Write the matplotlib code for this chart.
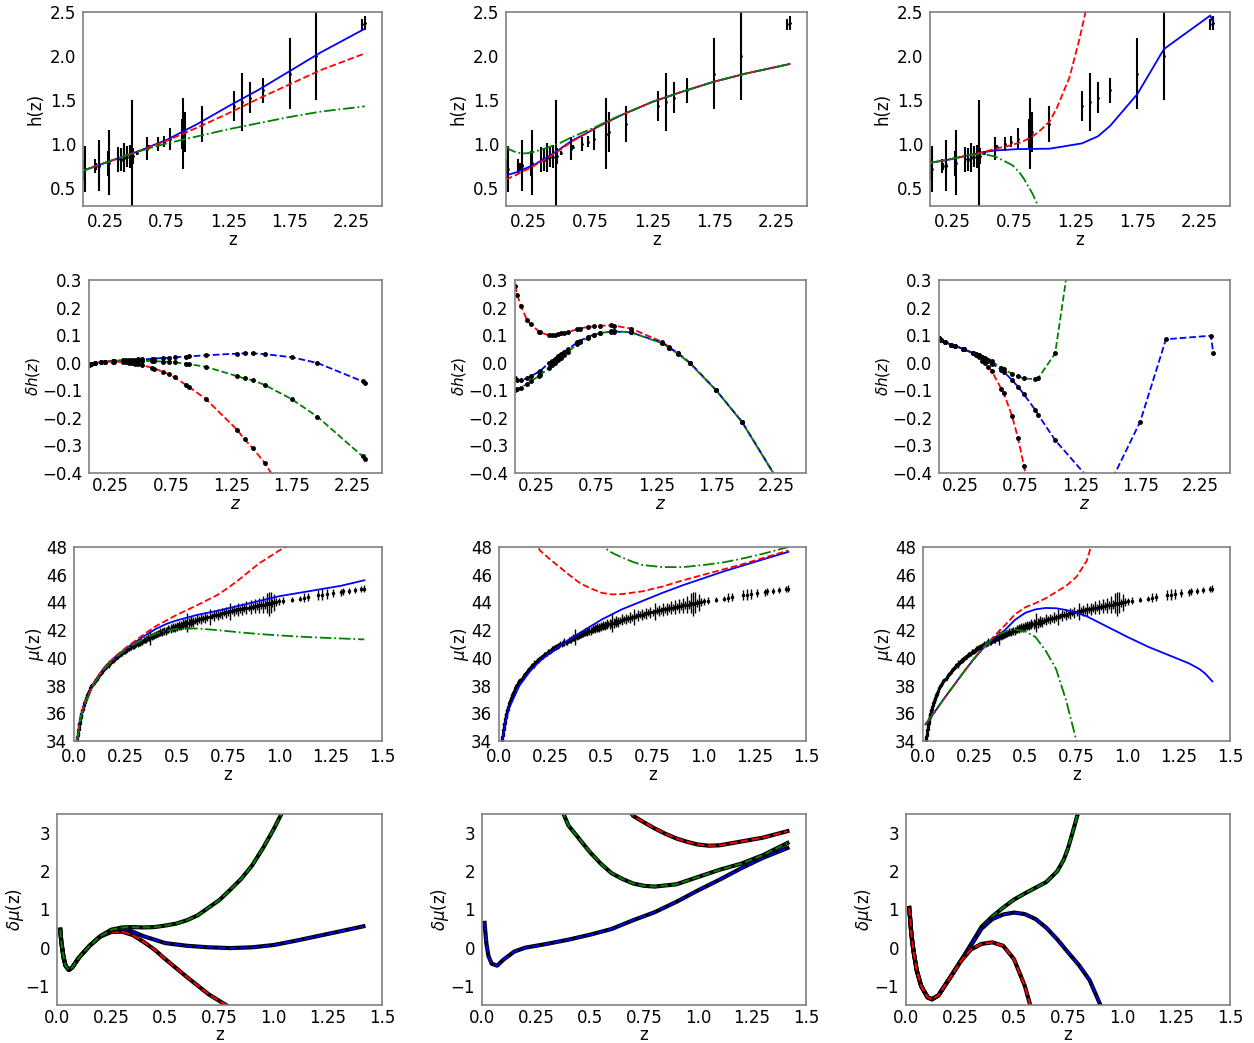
import matplotlib.pyplot as plt

# ---------------- observed H(z) data (h = H/100) ----------------
ohd_z = [0.07, 0.09, 0.17, 0.179, 0.199, 0.2, 0.27, 0.28, 0.352, 0.38, 0.3802, 0.4,
         0.4004, 0.4247, 0.4497, 0.47, 0.4783, 0.51, 0.593, 0.61, 0.68, 0.73, 0.781,
         0.875, 0.88, 0.9, 1.037, 1.3, 1.363, 1.43, 1.53, 1.75, 1.965, 2.34, 2.36]
ohd_h = [0.71, 0.72, 0.75, 0.75, 0.75, 0.76, 0.78, 0.79, 0.83, 0.83, 0.82, 0.85,
         0.86, 0.86, 0.86, 0.90, 0.87, 0.90, 0.95, 0.97, 1.00, 1.03, 1.06,
         1.12, 1.12, 1.14, 1.23, 1.43, 1.48, 1.53, 1.61, 1.80, 2.00, 2.36, 2.38]
ohd_err = [0.12, 0.26, 0.08, 0.04, 0.05, 0.29, 0.14, 0.37, 0.14, 0.13, 0.02, 0.17,
           0.11, 0.12, 0.13, 0.60, 0.09, 0.02, 0.13, 0.02, 0.08, 0.06, 0.12,
           0.17, 0.40, 0.23, 0.20, 0.17, 0.33, 0.18, 0.14, 0.40, 0.50, 0.06, 0.08]

# ---------------- supernova distance moduli ----------------
sn_z = [0.015, 0.017, 0.019, 0.021, 0.023, 0.025, 0.027, 0.03, 0.033, 0.036, 0.04, 0.045,
        0.05, 0.055, 0.06, 0.065, 0.07, 0.075, 0.08, 0.09, 0.1, 0.11, 0.12, 0.13, 0.14,
        0.15, 0.16, 0.17, 0.18, 0.19, 0.2, 0.21, 0.22, 0.23, 0.24, 0.25, 0.26, 0.27, 0.28,
        0.29, 0.3, 0.31, 0.32, 0.33, 0.34, 0.35, 0.36, 0.37, 0.38, 0.39, 0.4, 0.41, 0.42,
        0.43, 0.44, 0.45, 0.46, 0.47, 0.48, 0.49, 0.5, 0.51, 0.52, 0.53, 0.54, 0.55, 0.56,
        0.57, 0.58, 0.6, 0.62, 0.64, 0.66, 0.68, 0.7, 0.72, 0.74, 0.76, 0.78, 0.8, 0.82,
        0.84, 0.86, 0.88, 0.9, 0.92, 0.94, 0.95, 0.96, 0.975, 1.0, 1.02, 1.06, 1.1, 1.12,
        1.14, 1.19, 1.21, 1.23, 1.26, 1.3, 1.31, 1.34, 1.37, 1.4, 1.414]
sn_mu = [34.03, 34.30, 34.55, 34.78, 34.98, 35.20, 35.33, 35.60, 35.78, 35.98, 36.23, 36.45,
         36.74, 36.90, 37.10, 37.33, 37.44, 37.64, 37.80, 38.02, 38.33, 38.50, 38.78, 38.93, 39.15,
         39.24, 39.45, 39.58, 39.72, 39.80, 39.96, 40.05, 40.22, 40.28, 40.44, 40.48, 40.63, 40.70, 40.80,
         40.83, 40.98, 41.02, 41.15, 41.14, 41.30, 41.32, 41.45, 41.50, 41.52, 41.64, 41.70, 41.74, 41.85,
         41.84, 41.97, 41.95, 42.08, 42.10, 42.18, 42.20, 42.25, 42.35, 42.32, 42.44, 42.42, 42.55, 42.52,
         42.62, 42.60, 42.75, 42.80, 42.90, 42.95, 43.08, 43.12, 43.22, 43.28, 43.35, 43.42, 43.50, 43.52,
         43.62, 43.66, 43.72, 43.80, 43.83, 43.95, 43.90, 43.98, 44.00, 44.08, 44.12, 44.20, 44.28, 44.35,
         44.40, 44.52, 44.55, 44.60, 44.66, 44.74, 44.80, 44.82, 44.88, 44.95, 45.00]
sn_err = [0.15, 0.15, 0.14, 0.14, 0.13, 0.13, 0.12, 0.12, 0.12, 0.12, 0.11, 0.11,
          0.11, 0.11, 0.11, 0.12, 0.12, 0.12, 0.12, 0.13, 0.13, 0.13, 0.14, 0.14, 0.14,
          0.15, 0.15, 0.30, 0.15, 0.16, 0.16, 0.16, 0.17, 0.17, 0.18, 0.18, 0.19, 0.20, 0.20,
          0.21, 0.21, 0.22, 0.30, 0.22, 0.23, 0.23, 0.25, 0.60, 0.25, 0.26, 0.26, 0.27, 0.27,
          0.28, 0.29, 0.30, 0.30, 0.31, 0.31, 0.32, 0.33, 0.33, 0.34, 0.35, 0.36, 0.70, 0.36,
          0.37, 0.38, 0.40, 0.38, 0.40, 0.55, 0.40, 0.40, 0.40, 0.42, 0.60, 0.42, 0.45, 0.45,
          0.48, 0.50, 0.50, 0.55, 0.60, 0.70, 0.85, 0.75, 0.60, 0.25, 0.25, 0.20, 0.20, 0.30,
          0.30, 0.35, 0.40, 0.35, 0.30, 0.25, 0.25, 0.20, 0.20, 0.22, 0.25]
# more supernovae in the crowded low/intermediate redshift range
sn2_z = [0.016, 0.018, 0.022, 0.024, 0.026, 0.028, 0.032, 0.035, 0.038, 0.042, 0.048, 0.052,
         0.058, 0.063, 0.068, 0.085, 0.095, 0.105, 0.115, 0.125, 0.135, 0.145, 0.155, 0.165,
         0.175, 0.185, 0.195, 0.205, 0.215, 0.225, 0.235, 0.245, 0.255, 0.265, 0.275, 0.285,
         0.295, 0.315, 0.325, 0.345, 0.355, 0.365, 0.375, 0.385, 0.395, 0.405, 0.415, 0.425,
         0.435, 0.455, 0.465, 0.475, 0.485, 0.495, 0.505, 0.515, 0.525, 0.535, 0.545, 0.565,
         0.575, 0.59, 0.61, 0.63, 0.65, 0.67, 0.69, 0.71, 0.73, 0.75, 0.77, 0.79, 0.81, 0.83,
         0.85, 0.87, 0.89, 0.91, 0.93, 0.965, 0.985]
sn2_mu = [34.18, 34.45, 34.85, 35.12, 35.22, 35.45, 35.72, 35.88, 36.15, 36.30, 36.62, 36.80,
          37.05, 37.22, 37.40, 37.95, 38.20, 38.40, 38.60, 38.85, 39.00, 39.20, 39.35, 39.50,
          39.62, 39.78, 39.90, 40.00, 40.12, 40.25, 40.35, 40.45, 40.52, 40.65, 40.72, 40.85,
          40.90, 41.08, 41.12, 41.28, 41.40, 41.42, 41.55, 41.58, 41.65, 41.72, 41.80, 41.82,
          41.92, 42.02, 42.05, 42.15, 42.16, 42.24, 42.28, 42.30, 42.40, 42.45, 42.48, 42.58,
          42.58, 42.68, 42.78, 42.85, 42.92, 43.02, 43.10, 43.15, 43.25, 43.30, 43.40, 43.45,
          43.50, 43.58, 43.63, 43.70, 43.75, 43.80, 43.85, 43.95, 44.05]
sn2_err = [0.15, 0.15, 0.15, 0.15, 0.15, 0.15, 0.15, 0.15, 0.15, 0.15, 0.15, 0.15,
           0.15, 0.15, 0.15, 0.15, 0.15, 0.15, 0.15, 0.15, 0.15, 0.15, 0.15, 0.15,
           0.18, 0.18, 0.18, 0.18, 0.18, 0.18, 0.18, 0.18, 0.18, 0.18, 0.18, 0.18,
           0.18, 0.20, 0.20, 0.20, 0.20, 0.20, 0.20, 0.20, 0.20, 0.20, 0.20, 0.20,
           0.20, 0.20, 0.22, 0.22, 0.22, 0.22, 0.22, 0.22, 0.22, 0.22, 0.22, 0.22,
           0.22, 0.25, 0.25, 0.25, 0.25, 0.25, 0.25, 0.25, 0.25, 0.25, 0.25, 0.25,
           0.25, 0.28, 0.28, 0.28, 0.28, 0.28, 0.30, 0.30, 0.30]

# ---------------- row 1: reconstructed h(z) ----------------
h1_z = [0.07, 0.25, 0.5, 0.75, 1.0, 1.25, 1.5, 1.75, 2.0, 2.36]
h1_blue = [0.70, 0.79, 0.91, 1.05, 1.23, 1.43, 1.62, 1.83, 2.04, 2.31]
h1_red = [0.70, 0.79, 0.91, 1.04, 1.19, 1.35, 1.52, 1.68, 1.84, 2.03]
h1_green = [0.70, 0.79, 0.91, 1.01, 1.09, 1.17, 1.24, 1.31, 1.37, 1.43]

h2_z = [0.07, 0.1, 0.15, 0.2, 0.25, 0.3, 0.4, 0.5, 0.6, 0.7, 0.8, 0.9, 1.0, 1.25, 1.5, 1.75, 2.0, 2.36]
h2_blue = [0.65, 0.66, 0.68, 0.71, 0.74, 0.77, 0.85, 0.94, 1.04, 1.11, 1.19, 1.26, 1.33, 1.48, 1.60, 1.71, 1.80, 1.91]
h2_red = [0.60, 0.62, 0.65, 0.69, 0.72, 0.76, 0.84, 0.93, 1.03, 1.11, 1.19, 1.26, 1.33, 1.48, 1.60, 1.71, 1.80, 1.91]
h2_green = [0.98, 0.94, 0.91, 0.895, 0.90, 0.915, 0.96, 1.01, 1.08, 1.14, 1.20, 1.27, 1.33, 1.48, 1.60, 1.71, 1.80, 1.91]

h3_blue_z = [0.07, 0.2, 0.4, 0.48, 0.6, 0.78, 1.04, 1.3, 1.43, 1.53, 1.75, 1.965, 2.34, 2.36]
h3_blue = [0.79, 0.82, 0.88, 0.905, 0.93, 0.945, 0.95, 1.01, 1.09, 1.21, 1.57, 2.08, 2.46, 2.39]
h3_red_z = [0.07, 0.2, 0.4, 0.5, 0.6, 0.7, 0.8, 0.88, 0.95, 1.04, 1.1, 1.2, 1.28, 1.33, 1.36]
h3_red = [0.79, 0.82, 0.88, 0.91, 0.95, 0.98, 1.02, 1.07, 1.14, 1.26, 1.42, 1.76, 2.19, 2.50, 2.70]
h3_green_z = [0.07, 0.2, 0.4, 0.5, 0.6, 0.7, 0.74, 0.8, 0.83, 0.9, 0.93, 0.95]
h3_green = [0.79, 0.82, 0.88, 0.89, 0.86, 0.79, 0.76, 0.67, 0.61, 0.44, 0.35, 0.28]

# ---------------- row 2: delta h(z) at data redshifts ----------------
dh_z = [0.07, 0.09, 0.12, 0.17, 0.2, 0.27, 0.28, 0.35, 0.38, 0.4, 0.43, 0.45, 0.48, 0.51, 0.59,
        0.61, 0.68, 0.73, 0.78, 0.875, 0.9, 1.04, 1.3, 1.36, 1.43, 1.53, 1.75, 1.965, 2.34, 2.36]
dh1_blue = [-0.008, -0.005, -0.002, 0.002, 0.004, 0.007, 0.007, 0.009, 0.010, 0.010, 0.011, 0.011,
            0.012, 0.012, 0.014, 0.015, 0.017, 0.018, 0.020, 0.022, 0.023, 0.027, 0.033, 0.034,
            0.034, 0.031, 0.020, -0.001, -0.068, -0.072]
dh1_green = [-0.008, -0.005, -0.002, 0.002, 0.004, 0.006, 0.006, 0.007, 0.007, 0.007, 0.007, 0.007,
             0.007, 0.007, 0.006, 0.006, 0.004, 0.003, 0.001, -0.003, -0.005, -0.015, -0.049, -0.057,
             -0.064, -0.081, -0.132, -0.196, -0.340, -0.348]
dh1_red = [-0.008, -0.005, -0.002, 0.002, 0.004, 0.004, 0.004, 0.002, 0.001, 0.000, -0.002, -0.004,
           -0.006, -0.009, -0.018, -0.021, -0.032, -0.041, -0.053, -0.081, -0.088, -0.132, -0.244, -0.278,
           -0.311, -0.365, -0.520, -0.700, -1.050, -1.070]

dh2_red = [0.280, 0.245, 0.205, 0.155, 0.140, 0.113, 0.110, 0.100, 0.100, 0.101, 0.104, 0.106,
           0.108, 0.110, 0.122, 0.124, 0.130, 0.132, 0.134, 0.135, 0.134, 0.124, 0.075, 0.056,
           0.035, 0.000, -0.100, -0.214, -0.480, -0.490]
dh2_blue = [-0.057, -0.062, -0.063, -0.057, -0.050, -0.032, -0.030, -0.002, 0.008, 0.015, 0.025, 0.032,
            0.040, 0.048, 0.074, 0.079, 0.094, 0.102, 0.107, 0.113, 0.113, 0.110, 0.072, 0.053,
            0.034, 0.000, -0.100, -0.214, -0.480, -0.490]
dh2_green = [-0.100, -0.097, -0.090, -0.077, -0.068, -0.048, -0.045, -0.020, -0.010, -0.002, 0.010, 0.018,
             0.028, 0.038, 0.068, 0.074, 0.090, 0.100, 0.107, 0.114, 0.115, 0.110, 0.070, 0.052,
             0.033, -0.002, -0.100, -0.215, -0.480, -0.490]

dh3_red = [0.088, 0.084, 0.076, 0.065, 0.062, 0.050, 0.048, 0.035, 0.028, 0.020, 0.008, -0.002,
           -0.015, -0.030, -0.095, -0.110, -0.193, -0.274, -0.375, -0.600, -0.680, -1.200, -2.500, -2.900,
           -3.300, -3.900, -5.000, -6.000, -8.000, -8.100]
dh3_green = [0.088, 0.084, 0.076, 0.065, 0.062, 0.050, 0.048, 0.037, 0.033, 0.029, 0.022, 0.018,
             0.010, 0.005, -0.018, -0.024, -0.040, -0.050, -0.057, -0.060, -0.055, 0.034, 0.800, 1.100,
             1.400, 1.900, 3.000, 4.000, 6.000, 6.100]
dh3_blue = [0.088, 0.084, 0.076, 0.065, 0.062, 0.050, 0.048, 0.036, 0.031, 0.027, 0.020, 0.015,
            0.006, -0.003, -0.025, -0.032, -0.063, -0.087, -0.115, -0.172, -0.190, -0.281, -0.410, -0.460,
            -0.470, -0.410, -0.214, 0.085, 0.098, 0.037]

# ---------------- row 3: reconstructed mu(z) ----------------
m1_z = [0.015, 0.03, 0.05, 0.1, 0.15, 0.2, 0.25, 0.3, 0.35, 0.4, 0.45, 0.5, 0.6, 0.7, 0.8, 0.9,
        1.0, 1.1, 1.2, 1.3, 1.414]
m1_blue = [34.0, 35.6, 36.7, 38.3, 39.35, 40.05, 40.65, 41.15, 41.65, 42.1, 42.45, 42.7, 43.1, 43.4,
           43.75, 44.1, 44.45, 44.7, 44.95, 45.2, 45.6]
m1_red_z = [0.015, 0.03, 0.05, 0.1, 0.15, 0.2, 0.25, 0.3, 0.35, 0.4, 0.45, 0.5, 0.6, 0.7, 0.75, 0.8,
            0.85, 0.9, 1.0, 1.1]
m1_red = [34.0, 35.6, 36.7, 38.3, 39.35, 40.1, 40.7, 41.25, 41.8, 42.3, 42.7, 43.1, 43.8, 44.55,
          45.05, 45.6, 46.2, 46.8, 47.75, 48.6]
m1_green = [34.0, 35.5, 36.6, 38.2, 39.25, 40.0, 40.6, 41.05, 41.45, 41.75, 41.95, 42.1, 42.12, 42.0,
            41.85, 41.72, 41.62, 41.53, 41.46, 41.4, 41.33]

m2_blue_z = [0.015, 0.03, 0.05, 0.1, 0.15, 0.2, 0.25, 0.3, 0.35, 0.4, 0.45, 0.5, 0.6, 0.7, 0.8, 0.9,
             1.0, 1.1, 1.2, 1.3, 1.414]
m2_blue = [34.0, 35.3, 36.4, 38.0, 39.0, 39.8, 40.35, 40.9, 41.35, 41.85, 42.3, 42.75, 43.5, 44.1,
           44.7, 45.25, 45.75, 46.25, 46.7, 47.15, 47.65]
m2_red_z = [0.17, 0.2, 0.25, 0.3, 0.35, 0.4, 0.45, 0.5, 0.55, 0.6, 0.7, 0.8, 0.9, 1.0, 1.1, 1.2,
            1.3, 1.414]
m2_red = [48.5, 47.75, 47.1, 46.5, 45.9, 45.35, 45.0, 44.7, 44.58, 44.6, 44.8, 45.15, 45.6, 46.0,
          46.4, 46.8, 47.25, 47.75]
m2_green_z = [0.47, 0.5, 0.55, 0.6, 0.65, 0.7, 0.8, 0.9, 1.0, 1.1, 1.2, 1.3, 1.414]
m2_green = [48.5, 48.1, 47.6, 47.25, 46.95, 46.7, 46.55, 46.55, 46.7, 46.9, 47.2, 47.55, 48.0]

m3_blue_z = [0.012, 0.05, 0.1, 0.15, 0.2, 0.25, 0.3, 0.35, 0.4, 0.45, 0.5, 0.55, 0.6, 0.65, 0.7,
             0.75, 0.8, 0.9, 1.0, 1.1, 1.2, 1.25, 1.3, 1.35, 1.38, 1.414]
m3_blue = [35.2, 35.95, 37.0, 38.0, 39.0, 39.95, 40.8, 41.45, 42.0, 42.75, 43.25, 43.5, 43.6, 43.58,
           43.45, 43.25, 43.0, 42.25, 41.5, 40.8, 40.2, 39.9, 39.6, 39.2, 38.85, 38.3]
m3_red_z = [0.012, 0.05, 0.1, 0.15, 0.2, 0.25, 0.3, 0.35, 0.4, 0.45, 0.5, 0.55, 0.6, 0.65, 0.7,
            0.75, 0.8, 0.83]
m3_red = [35.2, 35.95, 37.0, 38.0, 39.0, 39.95, 40.8, 41.6, 42.35, 43.15, 43.65, 43.95, 44.3, 44.75,
          45.2, 45.85, 47.0, 48.5]
m3_green_z = [0.012, 0.05, 0.1, 0.15, 0.2, 0.25, 0.3, 0.35, 0.4, 0.45, 0.5, 0.55, 0.6, 0.65, 0.7, 0.75]
m3_green = [35.2, 35.95, 37.0, 38.0, 39.0, 39.95, 40.8, 41.55, 41.9, 42.05, 41.9, 41.5, 40.5, 39.2,
            36.9, 34.0]

# ---------------- row 4: delta mu(z) ----------------
d1_z = [0.015, 0.02, 0.03, 0.04, 0.055, 0.07, 0.1, 0.15, 0.2, 0.25, 0.3, 0.35, 0.4, 0.45, 0.5,
        0.6, 0.7, 0.8]
d1_red = [0.47, 0.15, -0.25, -0.48, -0.58, -0.52, -0.27, 0.05, 0.29, 0.41, 0.42, 0.33, 0.15, -0.05,
          -0.3, -0.77, -1.22, -1.57]
d1_blue_z = [0.015, 0.02, 0.03, 0.04, 0.055, 0.07, 0.1, 0.15, 0.2, 0.25, 0.3, 0.35, 0.4, 0.5, 0.6,
             0.7, 0.8, 0.9, 1.0, 1.1, 1.2, 1.3, 1.414]
d1_blue = [0.47, 0.15, -0.25, -0.48, -0.58, -0.52, -0.27, 0.05, 0.3, 0.46, 0.5, 0.42, 0.3, 0.12, 0.05,
           0.01, -0.01, 0.01, 0.07, 0.18, 0.3, 0.42, 0.56]
d1_green_z = [0.015, 0.02, 0.03, 0.04, 0.055, 0.07, 0.1, 0.15, 0.2, 0.25, 0.3, 0.35, 0.4, 0.45, 0.5,
              0.55, 0.6, 0.65, 0.7, 0.75, 0.8, 0.85, 0.9, 0.95, 1.0, 1.04]
d1_green = [0.47, 0.15, -0.25, -0.48, -0.58, -0.52, -0.27, 0.05, 0.3, 0.47, 0.53, 0.54, 0.53, 0.54,
            0.58, 0.63, 0.72, 0.85, 1.05, 1.25, 1.52, 1.8, 2.15, 2.6, 3.1, 3.55]

d2_blue_z = [0.012, 0.02, 0.03, 0.045, 0.07, 0.1, 0.15, 0.2, 0.3, 0.4, 0.5, 0.6, 0.7, 0.8, 0.9,
             1.0, 1.1, 1.2, 1.3, 1.414]
d2_blue = [0.65, 0.12, -0.22, -0.42, -0.47, -0.31, -0.1, 0.0, 0.1, 0.21, 0.34, 0.49, 0.72, 0.93,
           1.2, 1.5, 1.78, 2.08, 2.35, 2.61]
d2_green_z = [0.37, 0.4, 0.45, 0.5, 0.55, 0.6, 0.65, 0.7, 0.75, 0.8, 0.9, 1.0, 1.1, 1.2, 1.3, 1.414]
d2_green = [3.6, 3.2, 2.85, 2.5, 2.2, 1.95, 1.8, 1.68, 1.62, 1.6, 1.66, 1.85, 2.04, 2.2, 2.42, 2.74]
d2_red_z = [0.68, 0.7, 0.75, 0.8, 0.85, 0.9, 0.95, 1.0, 1.05, 1.1, 1.2, 1.3, 1.414]
d2_red = [3.6, 3.45, 3.28, 3.12, 2.98, 2.86, 2.77, 2.7, 2.67, 2.68, 2.78, 2.88, 3.05]

d3_red_z = [0.015, 0.02, 0.025, 0.035, 0.05, 0.07, 0.1, 0.12, 0.15, 0.2, 0.25, 0.3, 0.35, 0.4,
            0.45, 0.5, 0.55, 0.58]
d3_red = [1.04, 0.7, 0.35, -0.1, -0.6, -1.0, -1.3, -1.35, -1.25, -0.82, -0.38, -0.05, 0.1, 0.14,
          0.05, -0.3, -1.0, -1.6]
d3_blue_z = [0.015, 0.02, 0.025, 0.035, 0.05, 0.07, 0.1, 0.12, 0.15, 0.2, 0.25, 0.3, 0.35, 0.4,
             0.45, 0.5, 0.55, 0.6, 0.65, 0.7, 0.75, 0.8, 0.85, 0.9]
d3_blue = [1.04, 0.7, 0.35, -0.1, -0.6, -1.0, -1.3, -1.35, -1.25, -0.82, -0.38, 0.05, 0.5, 0.75,
           0.87, 0.92, 0.88, 0.75, 0.52, 0.22, -0.12, -0.45, -0.85, -1.5]
d3_green_z = [0.015, 0.02, 0.025, 0.035, 0.05, 0.07, 0.1, 0.12, 0.15, 0.2, 0.25, 0.3, 0.35, 0.4,
              0.45, 0.5, 0.55, 0.6, 0.65, 0.7, 0.73, 0.75, 0.775, 0.8]
d3_green = [1.04, 0.7, 0.35, -0.1, -0.6, -1.0, -1.3, -1.35, -1.25, -0.82, -0.38, 0.08, 0.55, 0.82,
            1.05, 1.26, 1.42, 1.57, 1.72, 2.0, 2.3, 2.6, 3.09, 3.6]

# ---------------- figure ----------------
W, H = 1254, 1043
fig = plt.figure(figsize=(W / 100, H / 100), dpi=100)

rows_px = [(12, 206), (280, 473), (547, 741), (814, 1005)]
cols_px = [[(83, 382), (506, 807), (930, 1230)],
           [(89, 382), (515, 806), (939, 1230)],
           [(74, 382), (499, 806), (923, 1230)],
           [(57, 382), (482, 806), (906, 1230)]]
xpad = [5, 3, 5, 3]

axes = []
for r in range(4):
    t, b = rows_px[r]
    row = []
    for l, rr in cols_px[r]:
        ax = fig.add_axes([l / W, 1 - b / H, (rr - l) / W, (b - t) / H])
        for s in ax.spines.values():
            s.set_color('0.5')
            s.set_linewidth(1.2)
        ax.tick_params(length=0, labelsize=12, pad=5)
        ax.tick_params(axis='x', pad=xpad[r])
        row.append(ax)
    axes.append(row)

# row 1
hz_curves = [(h1_z, h1_blue, h1_z, h1_red, h1_z, h1_green),
             (h2_z, h2_blue, h2_z, h2_red, h2_z, h2_green),
             (h3_blue_z, h3_blue, h3_red_z, h3_red, h3_green_z, h3_green)]
for ax, (bz, bv, rz, rv, gz, gv) in zip(axes[0], hz_curves):
    ax.errorbar(ohd_z, ohd_h, yerr=ohd_err, fmt='k.', ms=2, lw=1.5, capsize=0, zorder=1)
    ax.plot(bz, bv, 'b-', lw=1.3)
    ax.plot(rz, rv, 'r--', lw=1.3)
    ax.plot(gz, gv, 'g-.', lw=1.3)
    ax.set_xlim(0.07, 2.5)
    ax.set_ylim(0.3, 2.5)
    ax.set_xticks([0.25, 0.75, 1.25, 1.75, 2.25])
    ax.set_yticks([0.5, 1.0, 1.5, 2.0, 2.5])
    ax.set_xlabel('z', fontsize=12, labelpad=0)
    ax.set_ylabel('h(z)', fontsize=12)

# row 2
dh_sets = [(dh1_blue, dh1_green, dh1_red), (dh2_red, dh2_blue, dh2_green), (dh3_red, dh3_green, dh3_blue)]
dh_cols = [('b', 'g', 'r'), ('r', 'b', 'g'), ('r', 'g', 'b')]
for ax, vals, cols in zip(axes[1], dh_sets, dh_cols):
    for v, c in zip(vals, cols):
        ax.plot(dh_z, v, '--', color=c, lw=1.3, marker='o', ms=2.5, mfc='k', mec='k')
    ax.set_xlim(0.07, 2.5)
    ax.set_ylim(-0.4, 0.3)
    ax.set_xticks([0.25, 0.75, 1.25, 1.75, 2.25])
    ax.set_yticks([-0.4, -0.3, -0.2, -0.1, 0.0, 0.1, 0.2, 0.3])
    ax.set_xlabel('$z$', fontsize=12, labelpad=0)
    ax.set_ylabel(r'$\delta h(z)$', fontsize=11, labelpad=0)

# row 3
mu_curves = [(m1_z, m1_blue, m1_red_z, m1_red, m1_z, m1_green),
             (m2_blue_z, m2_blue, m2_red_z, m2_red, m2_green_z, m2_green),
             (m3_blue_z, m3_blue, m3_red_z, m3_red, m3_green_z, m3_green)]
zt = [0.0, 0.25, 0.5, 0.75, 1.0, 1.25, 1.5]
zl = ['0.0', '0.25', '0.5', '0.75', '1.0', '1.25', '1.5']
for ax, (bz, bv, rz, rv, gz, gv) in zip(axes[2], mu_curves):
    ax.errorbar(sn_z, sn_mu, yerr=sn_err, fmt='k.', ms=3, lw=1.0, capsize=0, zorder=1)
    ax.errorbar(sn2_z, sn2_mu, yerr=sn2_err, fmt='k.', ms=3, lw=1.0, capsize=0, zorder=1)
    ax.plot(bz, bv, 'b-', lw=1.3)
    ax.plot(rz, rv, 'r--', lw=1.3)
    ax.plot(gz, gv, 'g-.', lw=1.3)
    ax.set_xlim(0, 1.5)
    ax.set_ylim(34, 48)
    ax.set_xticks(zt)
    ax.set_xticklabels(zl)
    ax.set_yticks(range(34, 49, 2))
    ax.set_xlabel('z', fontsize=12, labelpad=0)
    ax.set_ylabel(r'$\mu$(z)', fontsize=12, labelpad=0)

# row 4
dmu_curves = [[(d1_z, d1_red, 'r'), (d1_blue_z, d1_blue, 'b'), (d1_green_z, d1_green, 'g')],
              [(d2_blue_z, d2_blue, 'b'), (d2_green_z, d2_green, 'g'), (d2_red_z, d2_red, 'r')],
              [(d3_green_z, d3_green, 'g'), (d3_blue_z, d3_blue, 'b'), (d3_red_z, d3_red, 'r')]]
for ax, curves in zip(axes[3], dmu_curves):
    for z, v, c in curves:
        ax.plot(z, v, '-', color='k', lw=3.0)
        ax.plot(z, v, '--', color=c, lw=1.5)
    ax.set_xlim(0, 1.5)
    ax.set_ylim(-1.5, 3.5)
    ax.set_xticks(zt)
    ax.set_xticklabels(zl)
    ax.set_yticks([-1, 0, 1, 2, 3])
    ax.set_xlabel('z', fontsize=12, labelpad=-1)
    ax.set_ylabel(r'$\delta\mu$(z)', fontsize=12, labelpad=0)

fig.savefig('out.png', dpi=100)
